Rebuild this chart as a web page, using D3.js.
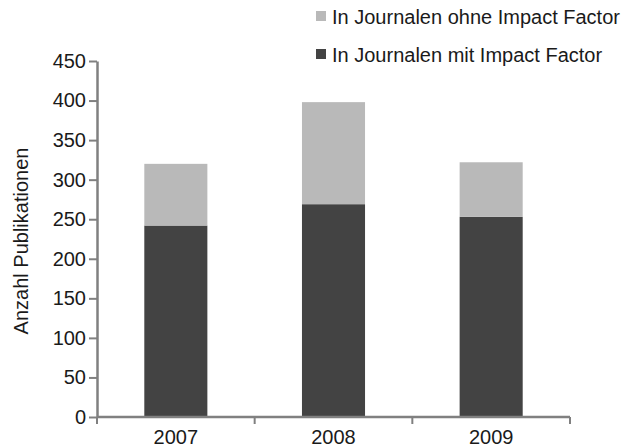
<!DOCTYPE html>
<html>
<head>
<meta charset="utf-8">
<script src="https://cdn.jsdelivr.net/npm/d3@7"></script>
<style>
  body { margin: 0; background: #fff; }
  text { font-family: "Liberation Sans", Arial, sans-serif; fill: #1a1a1a; }
</style>
</head>
<body>
<svg id="chart" width="627" height="448"></svg>
<script>
// years on the x axis
const years = ["2007", "2008", "2009"];
// publications per year
const withIF = [242, 269, 253];
const withoutIF = [78, 129, 69];
const seriesNames = ["In Journalen mit Impact Factor", "In Journalen ohne Impact Factor"];
const yTicks = [0, 50, 100, 150, 200, 250, 300, 350, 400, 450];

const colors = ["#434343", "#b9b9b9"];
const margin = { top: 61, left: 97, bottom: 31, right: 57 };
const width = 627, height = 448;

const svg = d3.select("#chart");

const x = d3.scaleBand()
  .domain(years)
  .range([margin.left, width - margin.right])
  .paddingInner(0.6)
  .paddingOuter(0.3);

const y = d3.scaleLinear()
  .domain([0, 450])
  .range([height - margin.bottom, margin.top]);

const rows = years.map((yr, i) => ({ year: yr, withIF: withIF[i], withoutIF: withoutIF[i] }));
const stack = d3.stack().keys(["withIF", "withoutIF"])(rows);

// bars
svg.append("g")
  .selectAll("g")
  .data(stack)
  .join("g")
  .attr("fill", (d, i) => colors[i])
  .selectAll("rect")
  .data(d => d)
  .join("rect")
  .attr("x", d => x(d.data.year))
  .attr("width", x.bandwidth())
  .attr("y", d => y(d[1]))
  .attr("height", d => y(d[0]) - y(d[1]));

// y axis
const yAxis = svg.append("g")
  .attr("transform", `translate(${margin.left},0)`)
  .call(d3.axisLeft(y).tickValues(yTicks).tickSize(8).tickPadding(3).tickSizeOuter(0));
yAxis.selectAll("text").style("font-size", "20px");
yAxis.select(".domain").attr("stroke", "#808080").attr("stroke-width", 2.5);
yAxis.selectAll(".tick line").attr("stroke", "#808080").attr("stroke-width", 2);

// x axis: ticks sit between the categories
const x0 = margin.left, x1 = width - margin.right;
const step = (x1 - x0) / years.length;
const xAxisG = svg.append("g").attr("transform", `translate(0,${y(0)})`);
xAxisG.append("line")
  .attr("x1", x0).attr("x2", x1)
  .attr("stroke", "#808080").attr("stroke-width", 2.5);
xAxisG.selectAll("line.tick")
  .data(d3.range(years.length + 1))
  .join("line")
  .attr("class", "tick")
  .attr("x1", d => x0 + d * step).attr("x2", d => x0 + d * step)
  .attr("y1", 0).attr("y2", 7)
  .attr("stroke", "#808080").attr("stroke-width", 2);
xAxisG.selectAll("text")
  .data(years)
  .join("text")
  .attr("x", d => x(d) + x.bandwidth() / 2)
  .attr("y", 27)
  .attr("text-anchor", "middle")
  .style("font-size", "20px")
  .text(d => d);

// y axis title
svg.append("text")
  .attr("transform", `translate(28,${(y(0) + y(450)) / 2 + 2}) rotate(-90)`)
  .attr("text-anchor", "middle")
  .style("font-size", "20px")
  .text("Anzahl Publikationen");

// legend (ohne on top)
const legend = svg.append("g");
const legendItems = [1, 0];
legendItems.forEach((k, i) => {
  const gy = 11 + i * 38;
  legend.append("rect")
    .attr("x", 316).attr("y", gy)
    .attr("width", 10).attr("height", 10)
    .attr("fill", colors[k]);
  legend.append("text")
    .attr("x", 332).attr("y", gy + 13)
    .style("font-size", "20px")
    .text(seriesNames[k]);
});
</script>
</body>
</html>
